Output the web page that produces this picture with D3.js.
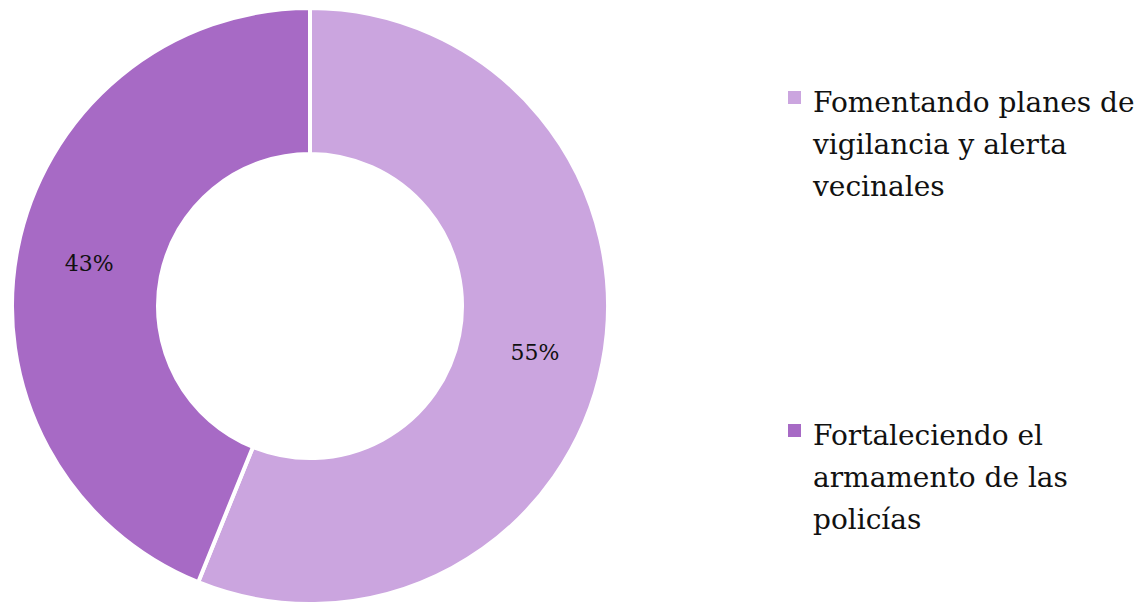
<!DOCTYPE html>
<html><head><meta charset="utf-8">
<script src="https://cdn.jsdelivr.net/npm/d3@7"></script>
<style>body{margin:0;background:#fff}svg{display:block}</style>
</head><body>
<script>
const categories = ["Fomentando planes de vigilancia y alerta vecinales", "Fortaleciendo el armamento de las policías"];
const values = [55, 43];
const labels = ["55%", "43%"];
const legendLines = [["Fomentando planes de", "vigilancia y alerta", "vecinales"], ["Fortaleciendo el", "armamento de las", "policías"]];
const colors = ["#CBA5DF", "#A76AC5"];

const W = 1140, H = 604;
const font = "'Palatino Linotype','Book Antiqua',Palatino,'DejaVu Serif',serif";
const svg = d3.select("body").append("svg").attr("width", W).attr("height", H);
const cx = 310, cy = 306, R = 298, r = 152;
const pie = d3.pie().sort(null).value(d => d)(values);
const arc = d3.arc().innerRadius(r).outerRadius(R);
const g = svg.append("g").attr("transform", `translate(${cx},${cy})`);
g.selectAll("path").data(pie).join("path")
  .attr("d", arc).attr("fill", (d, i) => colors[i])
  .attr("stroke", "#fff").attr("stroke-width", 4);
const lab = d3.arc().innerRadius(r).outerRadius(R);
g.selectAll("text").data(pie).join("text")
  .attr("transform", d => { const c = lab.centroid(d); return `translate(${c[0] + (d.index === 0 ? 4 : 0)},${c[1] + (d.index === 0 ? 3 : 0)})`; })
  .attr("text-anchor", "middle").attr("dy", "0.35em")
  .style("font-family", font).style("font-size", "22px").attr("fill", "#111")
  .text((d, i) => labels[i]);

const legendY = [112, 445];
categories.forEach((c, i) => {
  const lg = svg.append("g");
  lg.append("rect").attr("x", 788).attr("y", legendY[i] - 21).attr("width", 13).attr("height", 13).attr("fill", colors[i]);
  legendLines[i].forEach((t, j) => {
    lg.append("text").attr("x", 813).attr("y", legendY[i] + j * 42)
      .style("font-family", font).style("font-size", "28px").attr("fill", "#111").text(t);
  });
});
</script>
</body></html>
